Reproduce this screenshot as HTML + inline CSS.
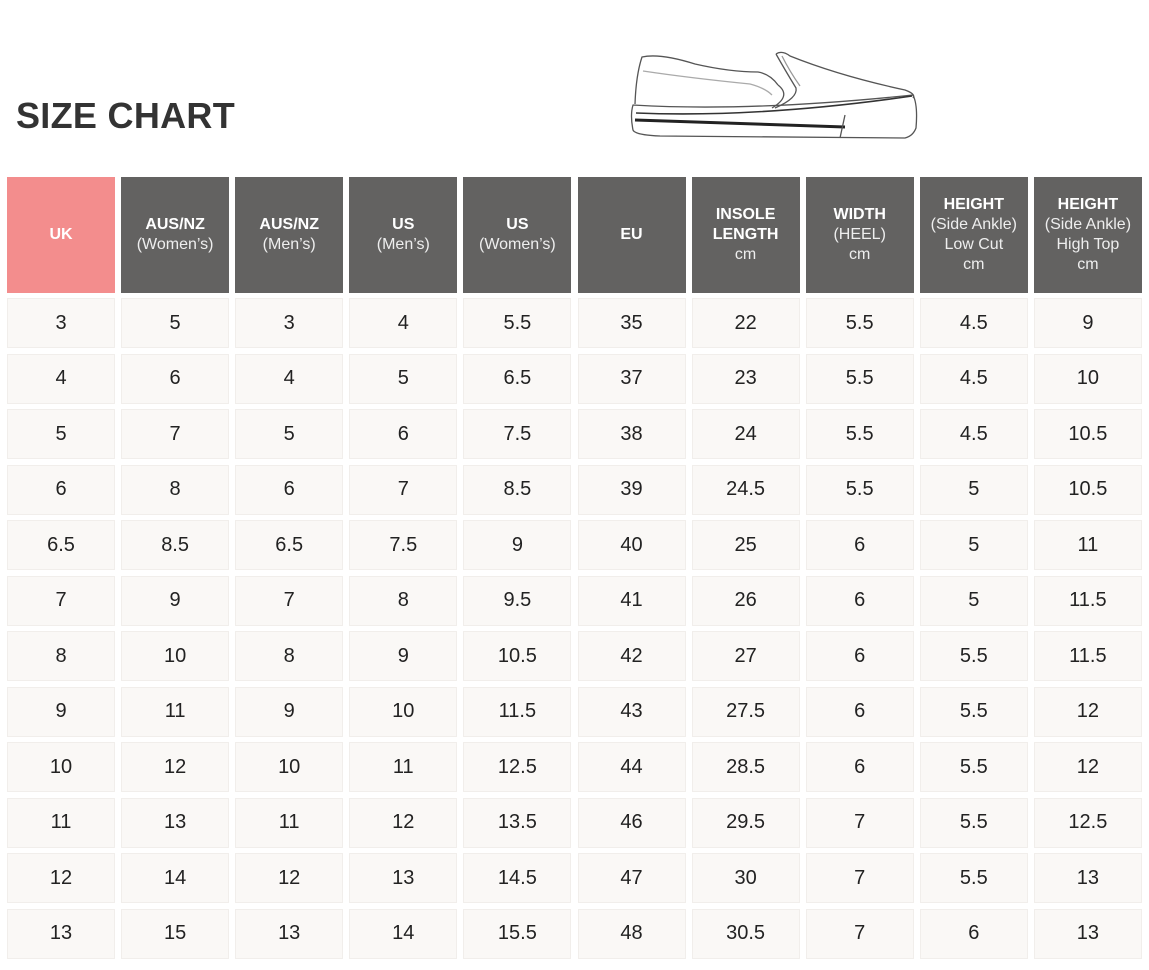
<!DOCTYPE html>
<html><head><style>
body{margin:0;width:1149px;height:970px;background:#fff;position:relative;font-family:"Liberation Sans",sans-serif;overflow:hidden}
h1{position:absolute;left:16px;top:95px;margin:0;font-size:36px;font-weight:bold;color:#333;letter-spacing:0.3px}
.h{position:absolute;top:177px;height:116px;width:108px;background:#636261;color:#eee;display:flex;flex-direction:column;justify-content:center;align-items:center;text-align:center;font-size:16px;line-height:20px}
.h b{color:#fff}
.h.uk{background:#f38d8d}
.c{position:absolute;width:106px;height:48px;background:#faf8f6;border:1px solid #f1eeeb;display:flex;align-items:center;justify-content:center;font-size:20px;color:#222}
</style></head><body>
<h1>SIZE CHART</h1>
<svg style="position:absolute;left:600px;top:40px" width="340" height="110" viewBox="0 0 340 110">
<g fill="none" stroke="#555" stroke-width="1.3" stroke-linejoin="round">
<path d="M35 64 Q36 35 42 17 Q60 13 95 24 Q130 32 158 32 Q170 34 178 45"/>
<path d="M178 45 Q192 56 172 68"/>
<path d="M176 14 Q182 10 190 16 Q240 36 305 50 Q316 54 313 58"/>
<path d="M176 14 Q185 30 196 48 Q198 58 175 68" />
<path d="M182 16 Q190 32 200 46" stroke="#999"/>
<path d="M43 31 Q90 38 150 44 Q165 48 172 55" stroke="#aaa"/>
<path d="M33 65 Q150 72 313 55 Q318 65 316 88 Q313 96 305 98 L60 96 Q35 95 33 90 Q30 75 33 65Z"/>
<path d="M35 80 L245 87" stroke="#222" stroke-width="3"/>
<path d="M36 73 Q160 78 312 56" stroke="#333" stroke-width="1.6"/>
<path d="M245 75 L240 98"/>
</g></svg>
<div id="t"></div>
<script>
var H=[['<b>UK</b>'],['<b>AUS/NZ</b>','(Women’s)'],['<b>AUS/NZ</b>','(Men’s)'],['<b>US</b>','(Men’s)'],['<b>US</b>','(Women’s)'],['<b>EU</b>'],['<b>INSOLE</b>','<b>LENGTH</b>','cm'],['<b>WIDTH</b>','(HEEL)','cm'],['<b>HEIGHT</b>','(Side Ankle)','Low Cut','cm'],['<b>HEIGHT</b>','(Side Ankle)','High Top','cm']];
var D=[[3,5,3,4,5.5,35,22,5.5,4.5,9],[4,6,4,5,6.5,37,23,5.5,4.5,10],[5,7,5,6,7.5,38,24,5.5,4.5,10.5],[6,8,6,7,8.5,39,24.5,5.5,5,10.5],[6.5,8.5,6.5,7.5,9,40,25,6,5,11],[7,9,7,8,9.5,41,26,6,5,11.5],[8,10,8,9,10.5,42,27,6,5.5,11.5],[9,11,9,10,11.5,43,27.5,6,5.5,12],[10,12,10,11,12.5,44,28.5,6,5.5,12],[11,13,11,12,13.5,46,29.5,7,5.5,12.5],[12,14,12,13,14.5,47,30,7,5.5,13],[13,15,13,14,15.5,48,30.5,7,6,13]];
var s='';
for(var i=0;i<10;i++){var x=7+i*114.1;
s+='<div class="h'+(i==0?' uk':'')+'" style="left:'+x+'px">'+H[i].map(function(l){return '<div>'+l+'</div>'}).join('')+'</div>';
for(var r=0;r<12;r++){s+='<div class="c" style="left:'+x+'px;top:'+(298+r*55.5)+'px">'+D[r][i]+'</div>';}}
document.getElementById('t').innerHTML=s;
</script>
</body></html>
